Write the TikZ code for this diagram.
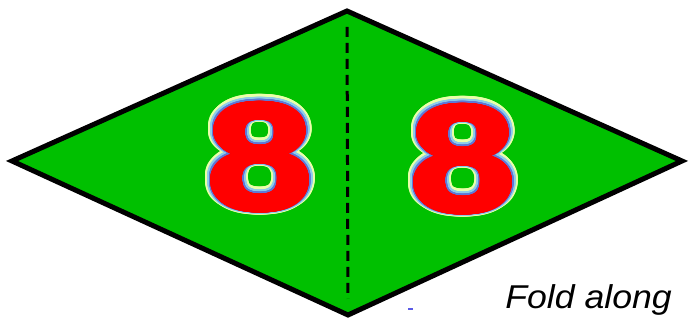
\documentclass[tikz,border=0pt]{standalone}
\usepackage{fontspec}
\setmainfont{Liberation Sans}
\usepackage{contour}
\contournumber{40}
\definecolor{fillgreen}{RGB}{0,192,0}
\definecolor{glowyellow}{RGB}{235,255,170}
\definecolor{glowcyan}{RGB}{140,205,235}
\definecolor{glowblue}{RGB}{95,120,215}
\definecolor{digitred}{RGB}{255,0,0}
\definecolor{dashblue}{RGB}{90,90,230}
\newcommand\glowlayer[2]{\scalebox{1.25}[1]{\contourlength{#1}\contour{#2}{8}}}
\begin{document}
\begin{tikzpicture}[x=1pt,y=1pt,
  digit/.style={inner sep=0pt, anchor=center, font=\fontsize{152}{152}\selectfont\bfseries},
  border/.style={line width=5pt, line join=miter, fill=fillgreen},
  foldline/.style={line width=3pt, dash pattern=on 10pt off 6pt}]
\useasboundingbox (0,0) rectangle (689,323);
\coordinate (L) at (12,162);
\coordinate (T) at (347,312);
\coordinate (R) at (682,162);
\coordinate (B) at (348,8);
\coordinate (dt) at (347,296);
\coordinate (db) at (348,24);
\draw[border] (L) -- (T) -- (R) -- (B) -- cycle;
\draw[foldline] (dt) -- (db);
% left eight
\node[digit, text=glowyellow] (l1) at (260,165) {\glowlayer{6.5pt}{glowyellow}};
\node[digit, text=glowcyan] (l2) at (260,165) {\glowlayer{4.8pt}{glowcyan}};
\node[digit, text=glowblue] (l3) at (260,165) {\glowlayer{3.2pt}{glowblue}};
\node[digit, text=digitred] (l4) at (260,165) {\glowlayer{1.8pt}{digitred}};
% right eight
\node[digit, text=glowyellow] (r1) at (463,163) {\glowlayer{6.5pt}{glowyellow}};
\node[digit, text=glowcyan] (r2) at (463,163) {\glowlayer{4.8pt}{glowcyan}};
\node[digit, text=glowblue] (r3) at (463,163) {\glowlayer{3.2pt}{glowblue}};
\node[digit, text=digitred] (r4) at (463,163) {\glowlayer{1.8pt}{digitred}};
\node[anchor=base east, inner sep=0pt, font=\fontsize{33}{33}\selectfont\itshape] (fold) at (672,14) {\scalebox{1.08}[1]{Fold along}};
\fill[dashblue] (408,13) rectangle (413,15);
\end{tikzpicture}
\end{document}
